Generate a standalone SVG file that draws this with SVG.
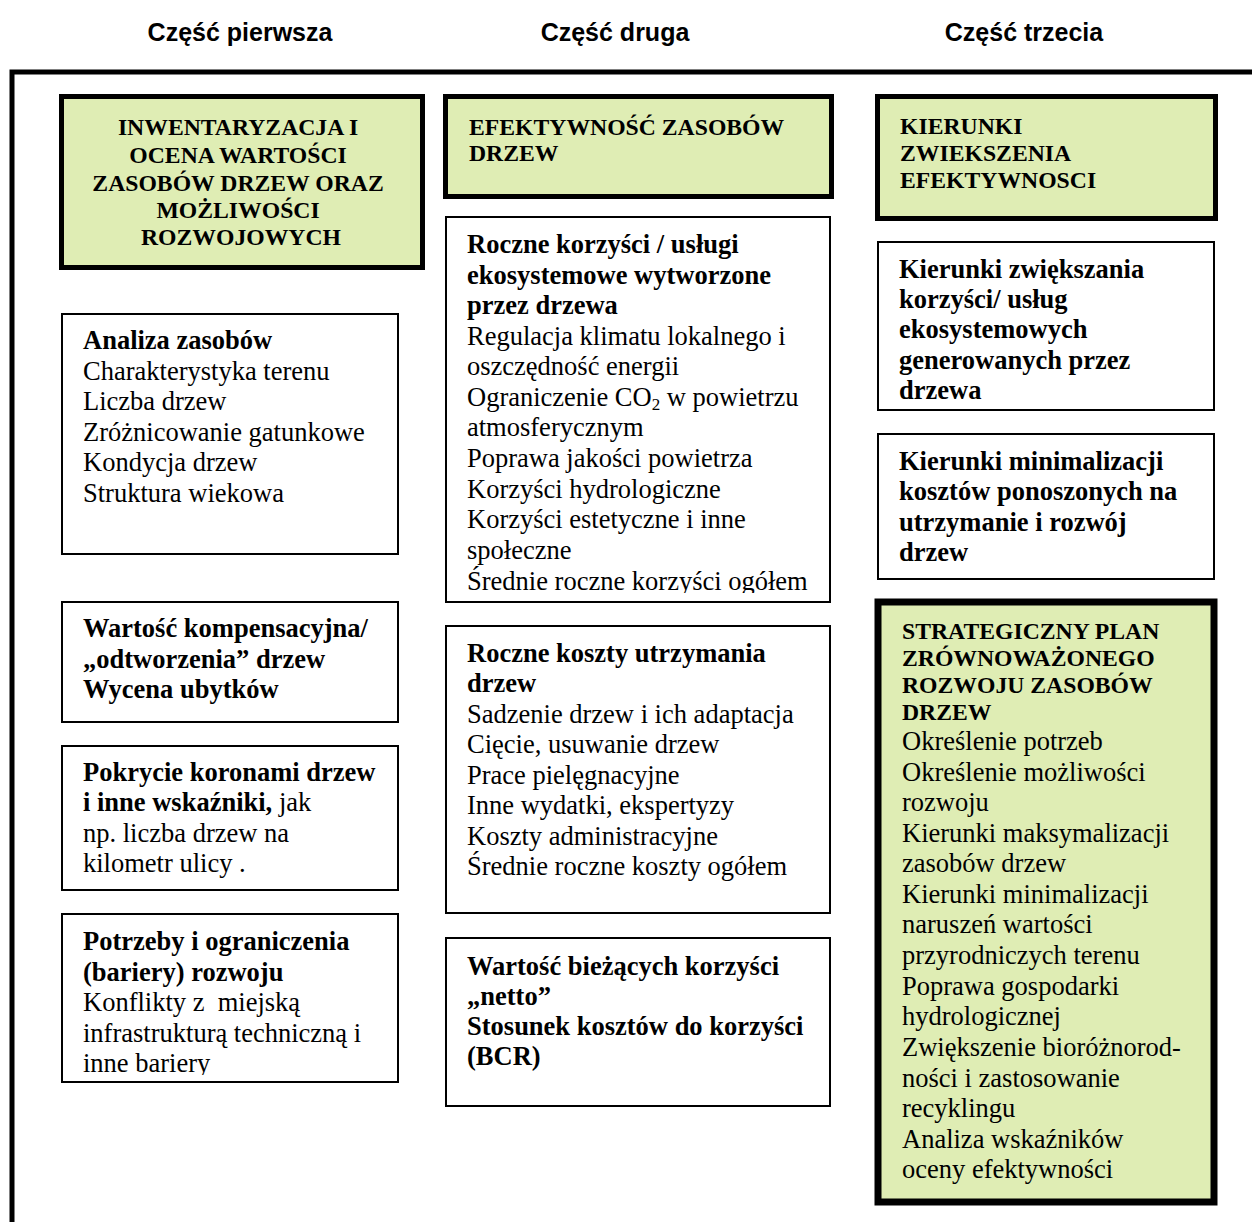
<svg xmlns="http://www.w3.org/2000/svg" width="1252" height="1222" viewBox="0 0 1252 1222">
<style>
.title{font-family:"Liberation Sans",Arial,sans-serif;font-weight:bold;font-size:25px;fill:#000;text-anchor:middle}
.hdr{font-family:"Liberation Serif","Times New Roman",serif;font-weight:bold;font-size:23.7px;fill:#000}
.b{font-family:"Liberation Serif","Times New Roman",serif;font-weight:bold;font-size:26.5px;fill:#000}
.t{font-family:"Liberation Serif","Times New Roman",serif;font-size:26.5px;fill:#000}
.green{fill:#DFEDB4;stroke:#000;stroke-width:5}
.white{fill:#fff;stroke:#000;stroke-width:2}
.thick{fill:#DFEDB4;stroke:#000;stroke-width:7}
</style>
<defs>
<clipPath id="clipA"><rect x="446" y="218" width="384" height="375"/></clipPath>
<clipPath id="clipB"><rect x="63" y="915" width="334" height="160"/></clipPath>
</defs>
<rect width="1252" height="1222" fill="#fff"/>

<g id="titles">
<text class="title" x="240" y="41">Część pierwsza</text>
<text class="title" x="615" y="41">Część druga</text>
<text class="title" x="1024" y="41">Część trzecia</text>
</g>

<g id="frame">
<path d="M12 1222 V72 H1252" fill="none" stroke="#000" stroke-width="5"/>
</g>

<g id="connectors"></g>

<g id="h1">
<rect class="green" x="61.5" y="96.5" width="361" height="171"/>
<text class="hdr" text-anchor="middle">
<tspan x="241" y="135">INWENTARYZACJA I</tspan>
<tspan x="241" y="163">OCENA WARTOŚCI</tspan>
<tspan x="241" y="191">ZASOBÓW DRZEW ORAZ</tspan>
<tspan x="241" y="218">MOŻLIWOŚCI</tspan>
<tspan x="241" y="245">ROZWOJOWYCH</tspan>
</text>
</g>

<g id="n-analiza">
<rect class="white" x="62" y="314" width="336" height="240"/>
<text class="b" x="83" y="349">Analiza zasobów</text>
<text class="t">
<tspan x="83" y="380">Charakterystyka terenu</tspan>
<tspan x="83" y="410">Liczba drzew</tspan>
<tspan x="83" y="441">Zróżnicowanie gatunkowe</tspan>
<tspan x="83" y="471">Kondycja drzew</tspan>
<tspan x="83" y="502">Struktura wiekowa</tspan>
</text>
</g>

<g id="n-wartosc">
<rect class="white" x="62" y="602" width="336" height="120"/>
<text class="b">
<tspan x="83" y="637">Wartość kompensacyjna/</tspan>
<tspan x="83" y="668">„odtworzenia” drzew</tspan>
<tspan x="83" y="698">Wycena ubytków</tspan>
</text>
</g>

<g id="n-pokrycie">
<rect class="white" x="62" y="746" width="336" height="144"/>
<text class="b" x="83" y="781">Pokrycie koronami drzew</text>
<text class="b" x="83" y="811">i inne wskaźniki,<tspan class="t" font-weight="normal"> jak</tspan></text>
<text class="t">
<tspan x="83" y="842">np. liczba drzew na</tspan>
<tspan x="83" y="872">kilometr ulicy .</tspan>
</text>
</g>

<g id="n-potrzeby">
<rect class="white" x="62" y="914" width="336" height="168"/>
<g clip-path="url(#clipB)">
<text class="b">
<tspan x="83" y="950">Potrzeby i ograniczenia</tspan>
<tspan x="83" y="981">(bariery) rozwoju</tspan>
</text>
<text class="t">
<tspan x="83" y="1011">Konflikty z&#160; miejską</tspan>
<tspan x="83" y="1042">infrastrukturą techniczną i</tspan>
<tspan x="83" y="1072">inne bariery</tspan>
</text>
</g>
</g>

<g id="h2">
<rect class="green" x="445.5" y="96.5" width="386" height="100"/>
<text class="hdr">
<tspan x="469" y="135">EFEKTYWNOŚĆ ZASOBÓW</tspan>
<tspan x="469" y="161">DRZEW</tspan>
</text>
</g>

<g id="n-korzysci">
<rect class="white" x="446" y="217" width="384" height="385"/>
<g clip-path="url(#clipA)">
<text class="b">
<tspan x="467" y="253">Roczne korzyści / usługi</tspan>
<tspan x="467" y="284">ekosystemowe wytworzone</tspan>
<tspan x="467" y="314">przez drzewa</tspan>
</text>
<text class="t">
<tspan x="467" y="345">Regulacja klimatu lokalnego i</tspan>
<tspan x="467" y="375">oszczędność energii</tspan>
<tspan x="467" y="406">Ograniczenie CO<tspan font-size="17" dy="4">2</tspan><tspan dy="-4"> w powietrzu</tspan></tspan>
<tspan x="467" y="436">atmosferycznym</tspan>
<tspan x="467" y="467">Poprawa jakości powietrza</tspan>
<tspan x="467" y="498">Korzyści hydrologiczne</tspan>
<tspan x="467" y="528">Korzyści estetyczne i inne</tspan>
<tspan x="467" y="559">społeczne</tspan>
<tspan x="467" y="590">Średnie roczne korzyści ogółem</tspan>
</text>
</g>
</g>

<g id="n-koszty">
<rect class="white" x="446" y="626" width="384" height="287"/>
<text class="b">
<tspan x="467" y="662">Roczne koszty utrzymania</tspan>
<tspan x="467" y="692">drzew</tspan>
</text>
<text class="t">
<tspan x="467" y="723">Sadzenie drzew i ich adaptacja</tspan>
<tspan x="467" y="753">Cięcie, usuwanie drzew</tspan>
<tspan x="467" y="784">Prace pielęgnacyjne</tspan>
<tspan x="467" y="814">Inne wydatki, ekspertyzy</tspan>
<tspan x="467" y="845">Koszty administracyjne</tspan>
<tspan x="467" y="875">Średnie roczne koszty ogółem</tspan>
</text>
</g>

<g id="n-netto">
<rect class="white" x="446" y="938" width="384" height="168"/>
<text class="b">
<tspan x="467" y="975">Wartość bieżących korzyści</tspan>
<tspan x="467" y="1005">„netto”</tspan>
<tspan x="467" y="1035">Stosunek kosztów do korzyści</tspan>
<tspan x="467" y="1065">(BCR)</tspan>
</text>
</g>

<g id="h3">
<rect class="green" x="877.5" y="96.5" width="338" height="122"/>
<text class="hdr">
<tspan x="900" y="134">KIERUNKI</tspan>
<tspan x="900" y="161">ZWIEKSZENIA</tspan>
<tspan x="900" y="188">EFEKTYWNOSCI</tspan>
</text>
</g>

<g id="n-zwiekszania">
<rect class="white" x="878" y="242" width="336" height="168"/>
<text class="b">
<tspan x="899" y="278">Kierunki zwiększania</tspan>
<tspan x="899" y="308">korzyści/ usług</tspan>
<tspan x="899" y="338">ekosystemowych</tspan>
<tspan x="899" y="369">generowanych przez</tspan>
<tspan x="899" y="399">drzewa</tspan>
</text>
</g>

<g id="n-minimalizacji">
<rect class="white" x="878" y="434" width="336" height="145"/>
<text class="b">
<tspan x="899" y="470">Kierunki minimalizacji</tspan>
<tspan x="899" y="500">kosztów ponoszonych na</tspan>
<tspan x="899" y="531">utrzymanie i rozwój</tspan>
<tspan x="899" y="561">drzew</tspan>
</text>
</g>

<g id="n-plan">
<rect class="thick" x="878" y="602" width="336" height="600"/>
<text class="hdr">
<tspan x="902" y="639">STRATEGICZNY PLAN</tspan>
<tspan x="902" y="666">ZRÓWNOWAŻONEGO</tspan>
<tspan x="902" y="693">ROZWOJU ZASOBÓW</tspan>
<tspan x="902" y="720">DRZEW</tspan>
</text>
<text class="t">
<tspan x="902" y="750">Określenie potrzeb</tspan>
<tspan x="902" y="781">Określenie możliwości</tspan>
<tspan x="902" y="811">rozwoju</tspan>
<tspan x="902" y="842">Kierunki maksymalizacji</tspan>
<tspan x="902" y="872">zasobów drzew</tspan>
<tspan x="902" y="903">Kierunki minimalizacji</tspan>
<tspan x="902" y="933">naruszeń wartości</tspan>
<tspan x="902" y="964">przyrodniczych terenu</tspan>
<tspan x="902" y="995">Poprawa gospodarki</tspan>
<tspan x="902" y="1025">hydrologicznej</tspan>
<tspan x="902" y="1056">Zwiększenie bioróżnorod-</tspan>
<tspan x="902" y="1087">ności i zastosowanie</tspan>
<tspan x="902" y="1117">recyklingu</tspan>
<tspan x="902" y="1148">Analiza wskaźników</tspan>
<tspan x="902" y="1178">oceny efektywności</tspan>
</text>
</g>
</svg>
